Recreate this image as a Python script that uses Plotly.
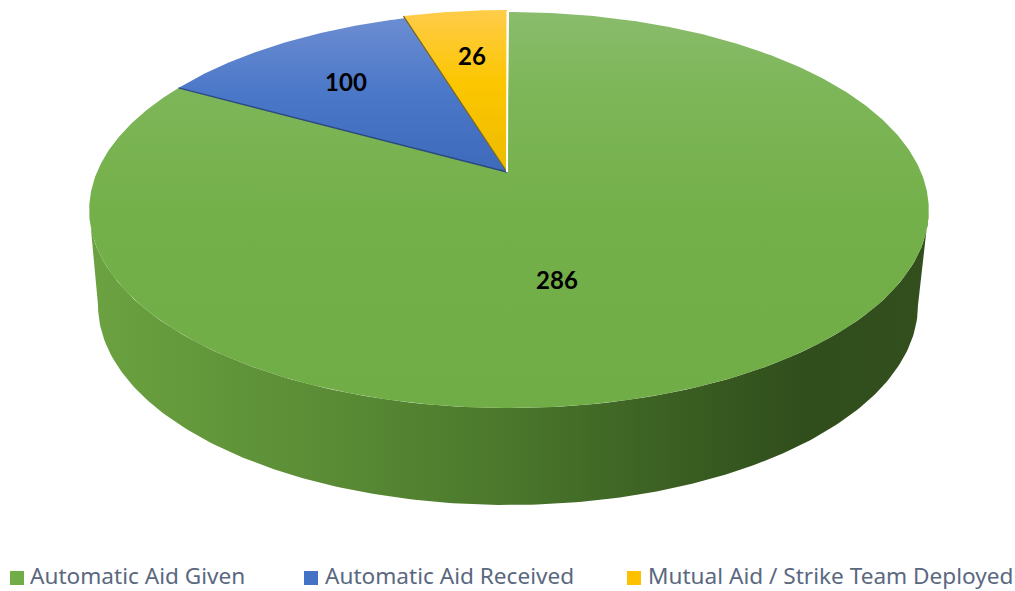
import numpy as np
import plotly.graph_objects as go

# Data
categories = ["Automatic Aid Given", "Automatic Aid Received", "Mutual Aid / Strike Team Deployed"]
value_labels = ["286", "100", "26"]
# The reference draws slices that are not proportional to their labels: sweep.
slice_degrees = [298.8, 43.9, 17.3]
swatch_colors = ["#70AD47", "#4472C4", "#FFC000"]
top_gradients = [
    [[0, "#8ABC6C"], [0.2, "#7DB658"], [0.5, "#74B04A"], [1, "#70AD47"]],
    [[0, "#6C8DD2"], [0.5, "#4A77C8"], [1, "#3E6ABC"]],
    [[0, "#FFCC4A"], [0.45, "#FCC600"], [1, "#EDBB00"]],
]
slice_lift = [(0, 0), (0, 0), (-2, -2)]
label_positions = [(557, 283), (346, 85), (472, 59)]
legend_swatch_x = [17, 311, 634]
legend_text_x = [30, 325, 648]
LEGEND_Y = 578

wall_stops = [[0, "#6BA140"], [0.3, "#588A34"], [0.5, "#4A762B"], [0.7, "#3A5E22"], [0.85, "#304E1C"], [1, "#324F1D"]]

# Projection of the pie disc
APEX = (507.0, 172.0)
RIM_CX, A, B, K, YC = 509.0, 412.0, -157.7, 0.192, 172.0


def rim(deg):
    t = np.radians(deg)
    X, Y = np.sin(t), np.cos(t)
    d = 1 + K * Y
    return RIM_CX + A * X / d, (YC + B * Y) / d


fig = go.Figure()

# Side wall
t = np.linspace(0, np.pi, 200)
bot_x = 508 + 410 * np.cos(t)
bot_y = 305 + 200 * np.sin(t)
tl = np.linspace(-79, 79, 120)
top_x, top_y = rim(tl + 180)
wall_x = np.r_[bot_x, top_x[::-1]]
wall_y = np.r_[bot_y, top_y[::-1]]
fig.add_trace(go.Scatter(
    x=wall_x, y=wall_y, mode="lines", fill="toself", line=dict(width=0), showlegend=False, hoverinfo="skip",
    fillgradient=dict(type="horizontal", colorscale=wall_stops, start=100, stop=930),
))

# Slices on top
start = 0.0
edges = []
for i, sweep in enumerate(slice_degrees):
    deg = np.linspace(start, start + sweep, max(int(sweep * 2), 30))
    rx, ry = rim(deg)
    dx, dy = slice_lift[i]
    rx, ry = rx + dx, ry + dy
    fig.add_trace(go.Scatter(
        x=np.r_[APEX[0], rx, APEX[0]], y=np.r_[APEX[1], ry, APEX[1]],
        mode="lines", fill="toself", line=dict(width=0), showlegend=False, hoverinfo="skip",
        fillgradient=dict(type="vertical", colorscale=top_gradients[i], start=float(ry.min()) if i else 12, stop=APEX[1] if i else 408),
    ))
    edges.append((rx[0], ry[0], rx[-1], ry[-1]))
    start += sweep

# Slice boundaries
boundary_colors = ["#2C4A80", "#7A6420", "#FFFFFF"]
boundary_widths = [1.4, 1.2, 2]
ends = [edges[1][:2], edges[2][:2], (507.5, 11)]
for (ex, ey), c, w in zip(ends, boundary_colors, boundary_widths):
    fig.add_trace(go.Scatter(x=[APEX[0], ex], y=[APEX[1], ey], mode="lines", line=dict(color=c, width=w),
                             showlegend=False, hoverinfo="skip"))

# Data labels
fig.add_trace(go.Scatter(
    x=[p[0] for p in label_positions], y=[p[1] for p in label_positions], text=value_labels,
    mode="text", textposition="middle center", showlegend=False, hoverinfo="skip",
    textfont=dict(family="Lato", size=24, color="#000000", weight="bold"),
))

# Legend
fig.add_trace(go.Scatter(x=legend_swatch_x, y=[LEGEND_Y] * 3, mode="markers", showlegend=False, hoverinfo="skip",
                         marker=dict(symbol="square", size=14, color=swatch_colors)))
fig.add_trace(go.Scatter(x=legend_text_x, y=[LEGEND_Y] * 3, mode="text", text=categories, textposition="middle right",
                         showlegend=False, hoverinfo="skip",
                         textfont=dict(family="Noto Sans", size=22.6, color="#5A6880")))

fig.update_layout(
    width=1015, height=591, margin=dict(l=0, r=0, t=0, b=0),
    paper_bgcolor="white", plot_bgcolor="white", showlegend=False,
    xaxis=dict(range=[0, 1015], visible=False, fixedrange=True),
    yaxis=dict(range=[591, 0], visible=False, fixedrange=True),
)
fig.write_html("out.html", config={"displayModeBar": False},
               post_script="document.body.style.margin='0';document.body.style.overflow='hidden';")
